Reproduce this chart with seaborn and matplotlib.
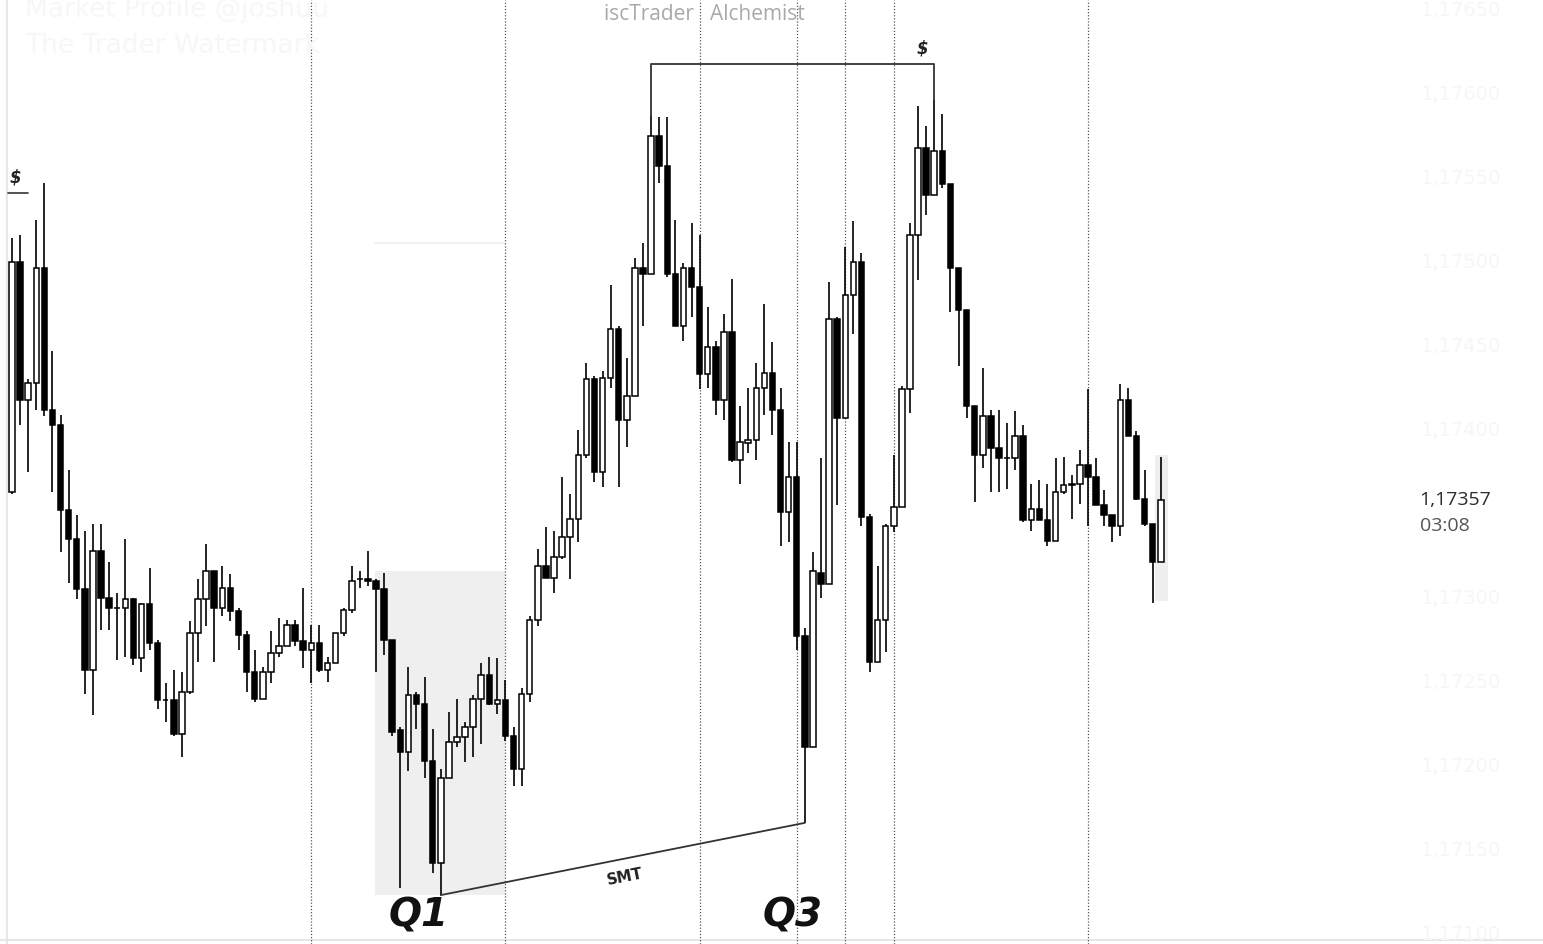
import numpy as np
import pandas as pd
import matplotlib
matplotlib.use("Agg")
import matplotlib.pyplot as plt
import seaborn as sns

# OHLC of each candle (EURUSD-like quotes)
open_ = [1.17362, 1.17499, 1.17417, 1.17427, 1.17495, 1.17411, 1.17402, 1.17351, 1.17334, 1.17304,
         1.17256, 1.17327, 1.17299, 1.17293, 1.17293, 1.17298, 1.17263, 1.17295, 1.17272, 1.17238,
         1.17238, 1.17218, 1.17243, 1.17278, 1.17298, 1.17315, 1.17293, 1.17305, 1.17291, 1.17277,
         1.17255, 1.17239, 1.17255, 1.17266, 1.17270, 1.17283, 1.17273, 1.17268, 1.17272, 1.17256,
         1.17260, 1.17278, 1.17292, 1.17310, 1.17310, 1.17309, 1.17304, 1.17274, 1.17220, 1.17207,
         1.17241, 1.17236, 1.17202, 1.17141, 1.17192, 1.17213, 1.17216, 1.17222, 1.17239, 1.17253,
         1.17236, 1.17238, 1.17217, 1.17197, 1.17242, 1.17286, 1.17318, 1.17311, 1.17323, 1.17335,
         1.17346, 1.17384, 1.17429, 1.17374, 1.17430, 1.17459, 1.17405, 1.17419, 1.17495, 1.17492,
         1.17574, 1.17556, 1.17492, 1.17461, 1.17495, 1.17484, 1.17432, 1.17448, 1.17417, 1.17457,
         1.17381, 1.17391, 1.17393, 1.17424, 1.17433, 1.17411, 1.17350, 1.17371, 1.17276, 1.17210,
         1.17314, 1.17307, 1.17465, 1.17406, 1.17479, 1.17499, 1.17347, 1.17261, 1.17286, 1.17342,
         1.17353, 1.17423, 1.17515, 1.17567, 1.17539, 1.17565, 1.17545, 1.17495, 1.17470, 1.17413,
         1.17384, 1.17407, 1.17388, 1.17382, 1.17382, 1.17395, 1.17345, 1.17352, 1.17345, 1.17333,
         1.17362, 1.17366, 1.17367, 1.17378, 1.17371, 1.17354, 1.17348, 1.17342, 1.17417, 1.17395,
         1.17358, 1.17343, 1.17320]
high = [1.17513, 1.17515, 1.17429, 1.17524, 1.17546, 1.17446, 1.17408, 1.17375, 1.17348, 1.17339,
        1.17343, 1.17343, 1.17320, 1.17302, 1.17334, 1.17299, 1.17296, 1.17317, 1.17274, 1.17248,
        1.17256, 1.17255, 1.17285, 1.17310, 1.17331, 1.17315, 1.17318, 1.17313, 1.17293, 1.17279,
        1.17268, 1.17258, 1.17279, 1.17287, 1.17286, 1.17286, 1.17305, 1.17283, 1.17283, 1.17264,
        1.17278, 1.17293, 1.17318, 1.17315, 1.17327, 1.17310, 1.17314, 1.17274, 1.17222, 1.17258,
        1.17243, 1.17252, 1.17221, 1.17197, 1.17231, 1.17239, 1.17225, 1.17241, 1.17260, 1.17264,
        1.17263, 1.17250, 1.17222, 1.17245, 1.17288, 1.17328, 1.17341, 1.17339, 1.17371, 1.17361,
        1.17399, 1.17439, 1.17431, 1.17434, 1.17485, 1.17461, 1.17442, 1.17501, 1.17510, 1.17586,
        1.17585, 1.17585, 1.17524, 1.17498, 1.17522, 1.17515, 1.17472, 1.17452, 1.17468, 1.17489,
        1.17413, 1.17424, 1.17439, 1.17474, 1.17451, 1.17424, 1.17392, 1.17392, 1.17281, 1.17326,
        1.17382, 1.17487, 1.17466, 1.17508, 1.17523, 1.17504, 1.17349, 1.17318, 1.17343, 1.17384,
        1.17425, 1.17522, 1.17592, 1.17580, 1.17595, 1.17587, 1.17545, 1.17495, 1.17470, 1.17413,
        1.17436, 1.17411, 1.17411, 1.17403, 1.17410, 1.17402, 1.17367, 1.17369, 1.17367, 1.17382,
        1.17383, 1.17372, 1.17387, 1.17423, 1.17382, 1.17363, 1.17348, 1.17426, 1.17424, 1.17398,
        1.17375, 1.17343, 1.17383]
low = [1.17361, 1.17402, 1.17374, 1.17411, 1.17407, 1.17362, 1.17326, 1.17308, 1.17298, 1.17242,
       1.17229, 1.17280, 1.17280, 1.17262, 1.17264, 1.17259, 1.17255, 1.17268, 1.17233, 1.17225,
       1.17217, 1.17204, 1.17242, 1.17261, 1.17282, 1.17261, 1.17288, 1.17285, 1.17268, 1.17243,
       1.17237, 1.17239, 1.17248, 1.17264, 1.17270, 1.17270, 1.17257, 1.17248, 1.17255, 1.17249,
       1.17260, 1.17276, 1.17290, 1.17305, 1.17306, 1.17255, 1.17265, 1.17217, 1.17126, 1.17196,
       1.17221, 1.17192, 1.17135, 1.17122, 1.17192, 1.17210, 1.17201, 1.17204, 1.17212, 1.17235,
       1.17230, 1.17214, 1.17187, 1.17187, 1.17237, 1.17282, 1.17311, 1.17302, 1.17322, 1.17310,
       1.17332, 1.17382, 1.17368, 1.17365, 1.17424, 1.17365, 1.17389, 1.17419, 1.17461, 1.17492,
       1.17546, 1.17490, 1.17461, 1.17452, 1.17466, 1.17423, 1.17424, 1.17408, 1.17405, 1.17380,
       1.17367, 1.17385, 1.17381, 1.17408, 1.17396, 1.17330, 1.17332, 1.17268, 1.17165, 1.17210,
       1.17299, 1.17307, 1.17354, 1.17406, 1.17456, 1.17342, 1.17255, 1.17261, 1.17267, 1.17338,
       1.17353, 1.17409, 1.17488, 1.17527, 1.17539, 1.17543, 1.17469, 1.17437, 1.17406, 1.17356,
       1.17376, 1.17362, 1.17362, 1.17364, 1.17375, 1.17344, 1.17339, 1.17345, 1.17330, 1.17333,
       1.17361, 1.17346, 1.17355, 1.17342, 1.17354, 1.17342, 1.17332, 1.17336, 1.17395, 1.17357,
       1.17342, 1.17296, 1.17320]
close = [1.17499, 1.17417, 1.17427, 1.17495, 1.17411, 1.17402, 1.17351, 1.17334, 1.17304, 1.17256,
         1.17327, 1.17299, 1.17293, 1.17293, 1.17298, 1.17263, 1.17295, 1.17272, 1.17238, 1.17238,
         1.17218, 1.17243, 1.17278, 1.17298, 1.17315, 1.17293, 1.17305, 1.17291, 1.17277, 1.17255,
         1.17239, 1.17255, 1.17266, 1.17270, 1.17283, 1.17273, 1.17268, 1.17272, 1.17256, 1.17260,
         1.17278, 1.17292, 1.17309, 1.17310, 1.17309, 1.17304, 1.17274, 1.17219, 1.17207, 1.17241,
         1.17236, 1.17202, 1.17141, 1.17192, 1.17213, 1.17216, 1.17222, 1.17239, 1.17253, 1.17236,
         1.17238, 1.17217, 1.17197, 1.17242, 1.17286, 1.17318, 1.17311, 1.17323, 1.17335, 1.17346,
         1.17384, 1.17429, 1.17374, 1.17430, 1.17459, 1.17405, 1.17419, 1.17495, 1.17492, 1.17574,
         1.17556, 1.17492, 1.17461, 1.17495, 1.17484, 1.17432, 1.17448, 1.17417, 1.17457, 1.17381,
         1.17392, 1.17393, 1.17424, 1.17433, 1.17411, 1.17350, 1.17371, 1.17276, 1.17210, 1.17315,
         1.17307, 1.17465, 1.17406, 1.17479, 1.17499, 1.17347, 1.17261, 1.17286, 1.17342, 1.17353,
         1.17423, 1.17515, 1.17567, 1.17539, 1.17565, 1.17545, 1.17495, 1.17470, 1.17413, 1.17384,
         1.17407, 1.17388, 1.17382, 1.17382, 1.17395, 1.17345, 1.17352, 1.17345, 1.17333, 1.17362,
         1.17366, 1.17367, 1.17378, 1.17371, 1.17354, 1.17348, 1.17342, 1.17417, 1.17395, 1.17358,
         1.17343, 1.17320, 1.17357]

# session separators (candle index) and price-axis labels
session_lines = [37, 61, 85, 97, 103, 109, 133]
price_ticks = [1.1710, 1.1715, 1.1720, 1.1725, 1.1730, 1.1740, 1.1745, 1.1750, 1.1755, 1.1760, 1.1765]
last_price = 1.17357
last_time = "03:08"

# annotations
q1_box = (44.9, 60.9, 1.17122, 1.17315)
smt_start = (53, 1.17122)
smt_end = (98, 1.17165)
high_bracket = (79, 114, 1.17617)

sns.set_theme(style="white")
plt.rcParams["font.family"] = ["DejaVu Sans"]

df = pd.DataFrame({"idx": np.arange(len(open_)), "open": open_, "high": high,
                   "low": low, "close": close})
df["bottom"] = df[["open", "close"]].min(axis=1)
df["body"] = (df["close"] - df["open"]).abs()
df["bull"] = df["close"] >= df["open"]

fig = plt.figure(figsize=(15.43, 9.44), dpi=100)
ax = fig.add_axes([0, 0, 1, 1])

# shaded Q1 range and last-candle highlight
ax.fill_between([q1_box[0], q1_box[1]], q1_box[2], q1_box[3], color="#efefef", lw=0, zorder=0)
ax.plot([q1_box[0], q1_box[1]], [1.17510, 1.17510], color="#eeeeee", lw=1.2, zorder=0)
ax.fill_between([141.35, 142.9], 1.17297, 1.17384, color="#eeeeee", lw=0, zorder=0)

for s in session_lines:
    ax.axvline(s, color="#555555", lw=0.9, ls=(0, (1, 1.5)), zorder=0.5)

# wicks then bodies
ax.vlines(df["idx"], df["low"], df["high"], color="black", lw=1.2, zorder=1)
bull = df[df["bull"]]
bear = df[~df["bull"]]
sns.barplot(data=bull, x="idx", y="body", orient="x", native_scale=True, errorbar=None,
            width=0.68, color="white", saturation=1, bottom=bull["bottom"].to_numpy(),
            edgecolor="black", linewidth=1.1, zorder=2, ax=ax)
sns.barplot(data=bear, x="idx", y="body", orient="x", native_scale=True, errorbar=None,
            width=0.68, color="black", saturation=1, bottom=bear["bottom"].to_numpy(),
            edgecolor="black", linewidth=1.1, zorder=2, ax=ax)

ax.set_xlim(-1.483, 189.25)
ax.set_ylim(1.170929, 1.176548)
ax.set_xlabel("")
ax.set_ylabel("")
ax.set_xticks([])
for sp in ax.spines.values():
    sp.set_visible(False)
ax.axvline(-0.62, color="#e6e6e6", lw=1.5, zorder=0)
ax.axhline(1.17095, color="#e6e6e6", lw=1.5, zorder=0)

# faint price axis on the right
ax.yaxis.tick_right()
ax.set_yticks(price_ticks)
ax.set_yticklabels([f"{p:.5f}".replace(".", ",") for p in price_ticks])
ax.tick_params(axis="y", length=0, pad=-88, labelsize=14, labelcolor="#f6f6f6")
ax.text(174.0, last_price, f"{last_price:.5f}".replace(".", ","), ha="left", va="center",
        fontsize=14, color="#2a2a2a", family="Open Sans")
ax.text(174.0, 1.17342, last_time, ha="left", va="center", fontsize=14, color="#555555",
        family="Open Sans")

# SMT divergence line
ax.plot([smt_start[0], smt_end[0]], [smt_start[1], smt_end[1]], color="#333333", lw=1.3, zorder=3)
p0 = ax.transData.transform(smt_start)
p1 = ax.transData.transform(smt_end)
angle = np.degrees(np.arctan2(p1[1] - p0[1], p1[0] - p0[0]))
ax.text(75.8, 1.17133, "SMT", rotation=angle, rotation_mode="anchor", ha="center", va="center",
        fontsize=11, fontweight="semibold", color="#222222")

# liquidity bracket over the highs
x0, x1, yb = high_bracket
ax.plot([x0, x0, x1, x1], [high[x0], yb, yb, high[x1]], color="#333333", lw=1.3, zorder=3)
ax.text(112.5, 1.17626, "$", ha="center", va="center", fontsize=12, fontweight="bold",
        style="italic", color="#222222")
ax.text(0.37, 1.17549, "$", ha="center", va="center", fontsize=12, fontweight="bold",
        style="italic", color="#222222")
ax.plot([-0.5, 2.0], [1.17540, 1.17540], color="#333333", lw=1.2)

ax.text(50.2, 1.17110, "Q1", ha="center", va="center", fontsize=28, fontweight="bold",
        style="italic", color="#111111")
ax.text(96.5, 1.17110, "Q3", ha="center", va="center", fontsize=28, fontweight="bold",
        style="italic", color="#111111")

fig.text(704 / 1543, 1 - 14 / 944, "iscTrader   Alchemist", ha="center", va="center",
         fontsize=15, color="#a9a9a9", family="Open Sans")
fig.text(25 / 1543, 1 - 10 / 944, "Market Profile @joshuu", ha="left", va="center",
         fontsize=19, color="#f7f7f7")
fig.text(25 / 1543, 1 - 46 / 944, "The Trader Watermark", ha="left", va="center",
         fontsize=19, color="#f7f7f7")

fig.savefig("out.png", dpi=100, facecolor="white")
